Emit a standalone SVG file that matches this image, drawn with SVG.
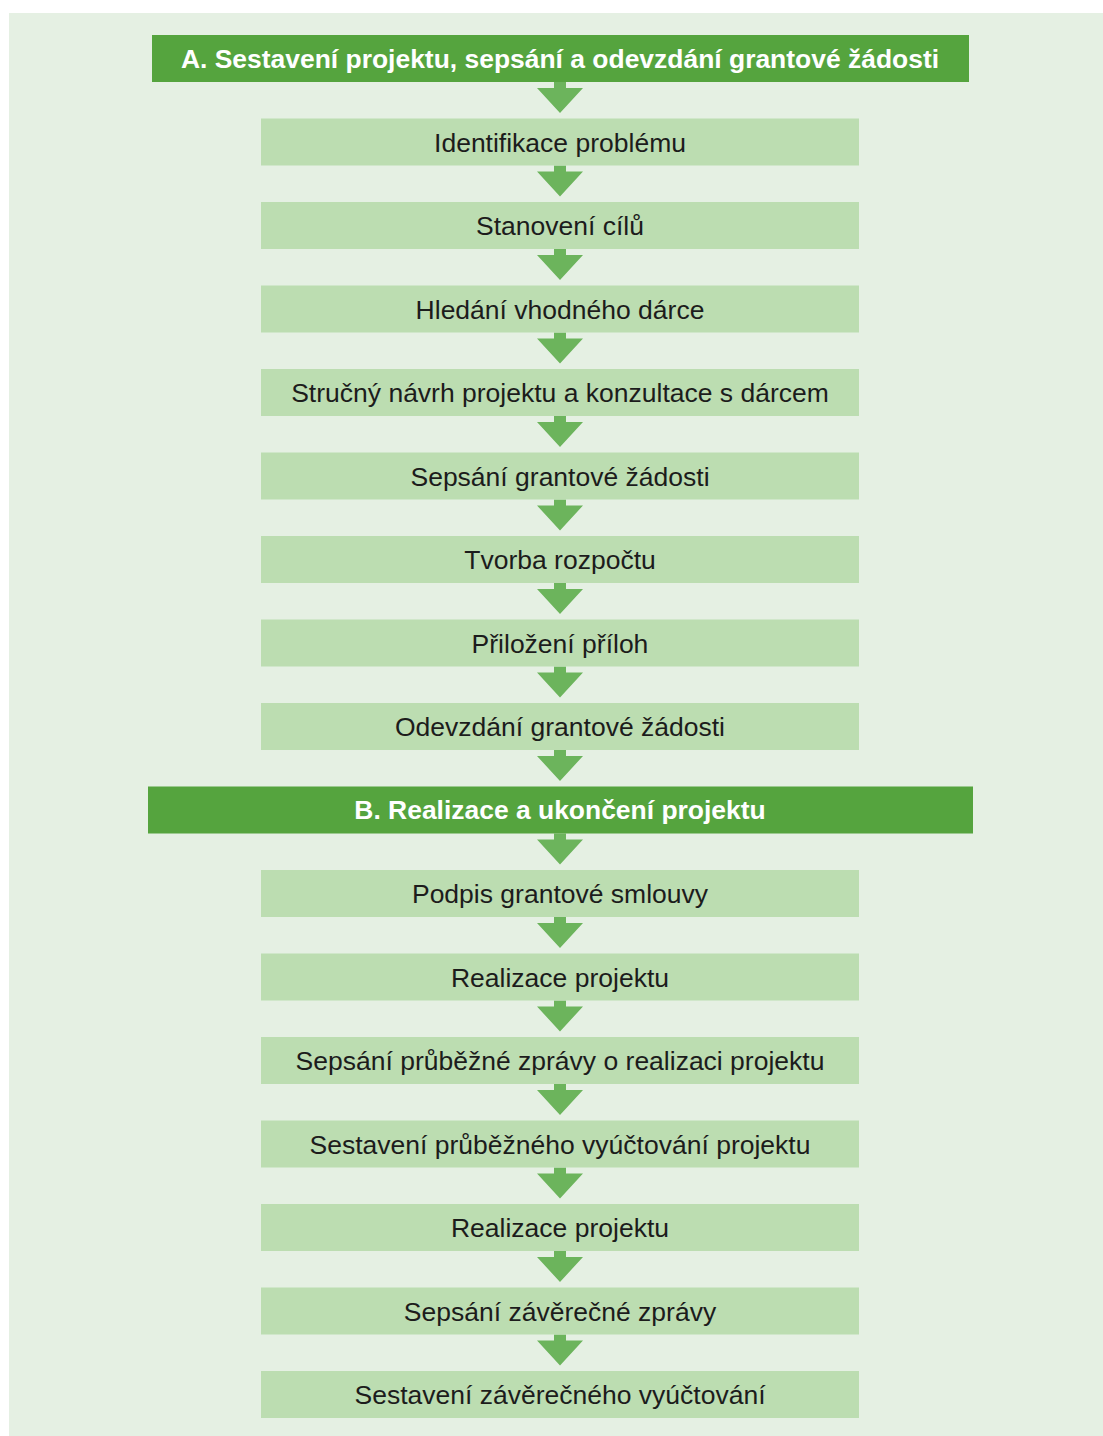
<svg xmlns="http://www.w3.org/2000/svg" xmlns:xlink="http://www.w3.org/1999/xlink" width="1103" height="1436" viewBox="0 0 1103 1436">
<style>
.bg{fill:#e5f0e3}
.hdr{fill:#55a43e}
.box{fill:#bcddb1}
.ht{font-family:"Liberation Sans",Arial,sans-serif;font-weight:bold;font-size:26.45px;fill:#ffffff;text-anchor:middle}
.bt{font-family:"Liberation Sans",Arial,sans-serif;font-size:26.5px;fill:#1c1c1c;text-anchor:middle}
.arr{fill:#6cb45c}
</style>
<defs>
<path id="ar" class="arr" d="M554,0 V6 H537 L560,31 L583,6 H566 V0 Z"/>
</defs>
<rect class="bg" x="9" y="13" width="1094" height="1423"/>
<g id="connectors">
<use xlink:href="#ar" y="82"/>
<use xlink:href="#ar" y="165.5"/>
<use xlink:href="#ar" y="249"/>
<use xlink:href="#ar" y="332.5"/>
<use xlink:href="#ar" y="416"/>
<use xlink:href="#ar" y="499.5"/>
<use xlink:href="#ar" y="583"/>
<use xlink:href="#ar" y="666.5"/>
<use xlink:href="#ar" y="750"/>
<use xlink:href="#ar" y="833.5"/>
<use xlink:href="#ar" y="917"/>
<use xlink:href="#ar" y="1000.5"/>
<use xlink:href="#ar" y="1084"/>
<use xlink:href="#ar" y="1167.5"/>
<use xlink:href="#ar" y="1251"/>
<use xlink:href="#ar" y="1334.5"/>
</g>
<g id="headerA"><rect class="hdr" x="152" y="35" width="817" height="47"/><text class="ht" x="560" y="67.5">A. Sestavení projektu, sepsání a odevzdání grantové žádosti</text></g>
<g id="n1"><rect class="box" x="261" y="118.5" width="598" height="47"/><text class="bt" x="560" y="151.5">Identifikace problému</text></g>
<g id="n2"><rect class="box" x="261" y="202" width="598" height="47"/><text class="bt" x="560" y="235">Stanovení cílů</text></g>
<g id="n3"><rect class="box" x="261" y="285.5" width="598" height="47"/><text class="bt" x="560" y="318.5">Hledání vhodného dárce</text></g>
<g id="n4"><rect class="box" x="261" y="369" width="598" height="47"/><text class="bt" x="560" y="402">Stručný návrh projektu a konzultace s dárcem</text></g>
<g id="n5"><rect class="box" x="261" y="452.5" width="598" height="47"/><text class="bt" x="560" y="485.5">Sepsání grantové žádosti</text></g>
<g id="n6"><rect class="box" x="261" y="536" width="598" height="47"/><text class="bt" x="560" y="569">Tvorba rozpočtu</text></g>
<g id="n7"><rect class="box" x="261" y="619.5" width="598" height="47"/><text class="bt" x="560" y="652.5">Přiložení příloh</text></g>
<g id="n8"><rect class="box" x="261" y="703" width="598" height="47"/><text class="bt" x="560" y="736">Odevzdání grantové žádosti</text></g>
<g id="headerB"><rect class="hdr" x="148" y="786.5" width="825" height="47"/><text class="ht" x="560" y="819">B. Realizace a ukončení projektu</text></g>
<g id="n9"><rect class="box" x="261" y="870" width="598" height="47"/><text class="bt" x="560" y="903">Podpis grantové smlouvy</text></g>
<g id="n10"><rect class="box" x="261" y="953.5" width="598" height="47"/><text class="bt" x="560" y="986.5">Realizace projektu</text></g>
<g id="n11"><rect class="box" x="261" y="1037" width="598" height="47"/><text class="bt" x="560" y="1070">Sepsání průběžné zprávy o realizaci projektu</text></g>
<g id="n12"><rect class="box" x="261" y="1120.5" width="598" height="47"/><text class="bt" x="560" y="1153.5">Sestavení průběžného vyúčtování projektu</text></g>
<g id="n13"><rect class="box" x="261" y="1204" width="598" height="47"/><text class="bt" x="560" y="1237">Realizace projektu</text></g>
<g id="n14"><rect class="box" x="261" y="1287.5" width="598" height="47"/><text class="bt" x="560" y="1320.5">Sepsání závěrečné zprávy</text></g>
<g id="n15"><rect class="box" x="261" y="1371" width="598" height="47"/><text class="bt" x="560" y="1404">Sestavení závěrečného vyúčtování</text></g>
</svg>
